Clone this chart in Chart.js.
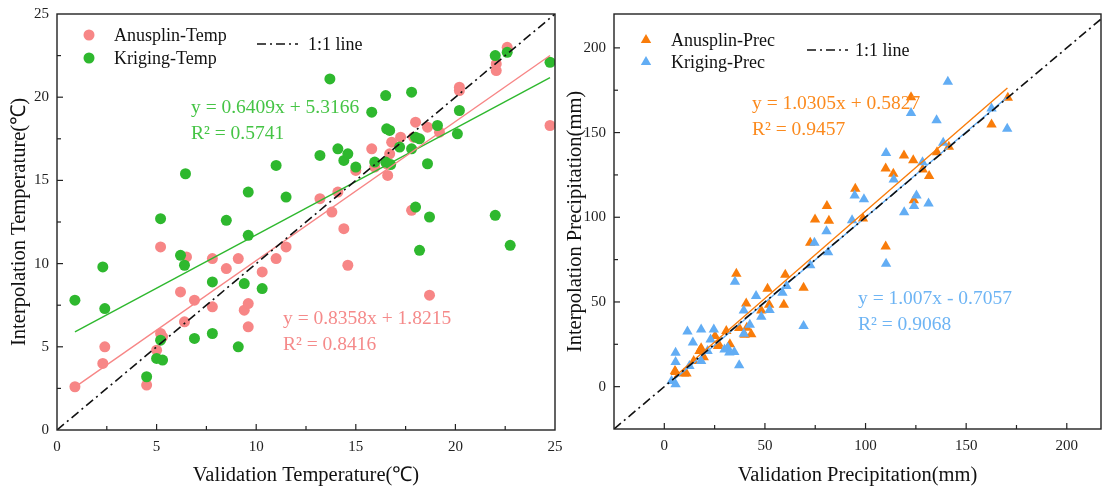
<!DOCTYPE html>
<html lang="en-US">
<head>
  <meta charset="utf-8">
  <title>Validation vs interpolation</title>
  <script src="https://cdn.jsdelivr.net/npm/chart.js@4.4.0/dist/chart.umd.min.js"></script>
  <style>
    html, body { margin: 0; padding: 0; background: #fff; }
    .panel { position: absolute; top: 0; height: 488px; }
  </style>
</head>
<body>
  <div class="panel" style="left:0;width:575px"><canvas id="chart-temp" width="575" height="488"></canvas></div>
  <div class="panel" style="left:560px;width:547px"><canvas id="chart-prec" width="547" height="488"></canvas></div>

  <script>
    // --- temperature panel data (validation x, interpolation y) ---
    let anusplinTempX = [0.9, 2.3, 2.4, 4.5, 5.0, 5.2, 5.3, 5.2, 6.2, 6.4, 6.5, 6.9, 7.8, 7.8, 8.5, 9.1, 9.4, 9.6, 9.6, 10.3,
      11.0, 11.5, 13.2, 13.8, 14.1, 14.4, 14.6, 15.0, 15.8, 15.95, 16.55, 16.6, 16.7, 16.8, 17.25, 17.8, 17.9, 18.0, 18.6, 18.7,
      19.2, 20.2, 20.2, 22.05, 22.05, 22.6, 24.75];
    let anusplinTempY = [2.6, 4.0, 5.0, 2.7, 4.8, 5.8, 5.6, 11.0, 8.3, 6.5, 10.4, 7.8, 10.3, 7.4, 9.7, 10.3, 7.2, 7.6, 6.2, 9.5,
      10.3, 11.0, 13.9, 13.1, 14.3, 12.1, 9.9, 15.6, 16.9, 15.8, 16.0, 15.3, 16.6, 17.3, 17.6, 13.2, 17.6, 18.5, 18.2, 8.1,
      17.9, 20.6, 20.4, 22.0, 21.6, 23.0, 18.3];
    let krigingTempX = [0.9, 2.3, 2.4, 4.5, 5.0, 5.3, 5.2, 5.2, 6.2, 6.4, 6.45, 6.9, 7.8, 7.8, 8.5, 9.1, 9.4, 9.6, 9.6, 10.3,
      11.0, 11.5, 13.2, 13.7, 14.1, 14.4, 14.6, 15.0, 15.8, 15.95, 16.5, 16.55, 16.7, 16.5, 16.75, 17.2, 17.8, 17.8, 18.0, 18.2,
      18.0, 18.2, 18.6, 18.7, 19.1, 20.1, 20.2, 22.0, 22.0, 22.6, 22.75, 24.75];
    let krigingTempY = [7.8, 9.8, 7.3, 3.2, 4.3, 4.2, 5.4, 12.7, 10.5, 9.9, 15.4, 5.5, 8.9, 5.8, 12.6, 5.0, 8.8, 11.7, 14.3, 8.5,
      15.9, 14.0, 16.5, 21.1, 16.9, 16.2, 16.6, 15.8, 19.1, 16.1, 20.1, 18.1, 18.0, 16.1, 15.95, 17.0, 20.3, 16.9, 17.6, 17.5,
      13.4, 10.8, 16.0, 12.8, 18.3, 17.8, 19.2, 22.5, 12.9, 22.7, 11.1, 22.1];

    // --- precipitation panel data ---
    let anusplinPrecX = [5.3, 5.6, 9.8, 11, 14.6, 17.5, 18.3, 19.6, 25.2, 26.7, 26.9, 30.8, 32.6, 35.8, 37.2, 39.9, 40.7, 41,
      43.2, 48.2, 51.3, 52.1, 59.4, 60.1, 69.2, 72.5, 74.9, 80.8, 81.8, 94.9, 98.7, 110, 110, 113.8, 119.1, 122.6, 123.7, 124,
      128.4, 131.6, 135.5, 141.4, 162.6, 170.7];
    let anusplinPrecY = [9.2, 8.6, 7.8, 7.7, 15.1, 21, 22.6, 17.3, 29.9, 24, 25.4, 32.8, 25.1, 66.7, 34.6, 30.7, 49.1, 34.8,
      31, 45, 57.8, 48.4, 48.4, 66.1, 58.4, 85, 98.7, 106.6, 97.9, 116.8, 99.3, 82.8, 128.8, 125.7, 136.5, 170.9, 133.7, 110.1,
      128.2, 124.3, 138.4, 141.6, 154.8, 170.5];
    let krigingPrecX = [3.6, 5.6, 5.6, 5.6, 11.5, 12.5, 14.2, 18.3, 18.3, 21.5, 23, 24.6, 29.9, 31.5, 32.3, 34.8, 35.1, 37.2,
      39.5, 39.5, 42.5, 45.6, 48.2, 52.3, 58.7, 60.7, 69.2, 72.5, 74.6, 80.6, 81.4, 93.3, 94.6, 99.2, 110.2, 110.2, 114, 119.2,
      122.6, 124.1, 125.3, 128.3, 131.3, 135.3, 138.6, 140.9, 162.6, 170.4];
    let krigingPrecY = [3.3, 1.4, 14.5, 20, 32.6, 12.2, 26, 33.8, 15.1, 21, 27.9, 33.8, 22, 23, 20.1, 20.4, 61.9, 12.6,
      45, 31.3, 36.6, 53.5, 41.3, 45.2, 55.5, 59.4, 35.8, 71.6, 85, 91.8, 79.4, 98.3, 112.9, 110.7, 72.6, 138, 122.3, 103,
      161.6, 106.6, 112.9, 132.5, 108.1, 157.3, 144, 180, 164.2, 152.2];

    // fitted lines as printed on the figure: [slope, intercept], and x extent of each fit
    let tempFits = { anusplin: [0.8358, 1.8215], kriging: [0.6409, 5.3166] };
    let tempFitRange = [0.9, 24.75];
    let precFits = { anusplin: [1.0305, 0.5827], kriging: [1.007, -0.7057] };
    let precFitRange = [5, 170.5];

    let tempTicks = [0, 5, 10, 15, 20, 25];
    let precTicks = [0, 50, 100, 150, 200];

    let tempEq = {
      kriging: ['y = 0.6409x + 5.3166', 'R\u00b2 = 0.5741'],
      anusplin: ['y = 0.8358x + 1.8215', 'R\u00b2 = 0.8416']
    };
    let precEq = {
      anusplin: ['y = 1.0305x + 0.5827', 'R\u00b2 = 0.9457'],
      kriging: ['y = 1.007x - 0.7057', 'R\u00b2 = 0.9068']
    };

    const SERIF = "'Liberation Serif', 'Times New Roman', serif";
    const colors = {
      tempA: '#f78686', tempK: '#2eb82e',
      precA: '#f97c0a', precK: '#62adf4',
      tempAText: '#f58a8a', tempKText: '#45c445',
      precAText: '#fb8a1e', precKText: '#6db4f4'
    };

    function pts(xs, ys) {
      return xs.map((x, i) => ({x: x, y: ys[i]}));
    }
    function fitLine(fit, range) {
      return range.map(x => ({x: x, y: fit[0] * x + fit[1]}));
    }

    // box, inward ticks (major + minor), legend and equation text
    function framePlugin(opts) {
      return {
        id: 'frame',
        afterDraw(chart) {
          const ctx = chart.ctx;
          const a = chart.chartArea;
          const xs = chart.scales.x, ys = chart.scales.y;
          ctx.save();
          ctx.strokeStyle = '#222';
          ctx.lineWidth = 1.4;
          ctx.strokeRect(a.left, a.top, a.right - a.left, a.bottom - a.top);

          ctx.lineWidth = 1.2;
          opts.ticks.forEach((v, i) => {
            let mids = [v];
            if (i < opts.ticks.length - 1) mids.push((v + opts.ticks[i + 1]) / 2);
            if (i === 0) mids.push(v - opts.step / 2);
            mids.forEach((t, j) => {
              const len = j === 0 ? 6 : 4;
              const px = xs.getPixelForValue(t);
              if (px > a.left + 1 && px < a.right - 1) {
                ctx.beginPath(); ctx.moveTo(px, a.bottom); ctx.lineTo(px, a.bottom - len); ctx.stroke();
              }
              const py = ys.getPixelForValue(t);
              if (py > a.top + 1 && py < a.bottom - 1) {
                ctx.beginPath(); ctx.moveTo(a.left, py); ctx.lineTo(a.left + len, py); ctx.stroke();
              }
            });
          });

          // legend
          ctx.font = '18px ' + SERIF;
          ctx.textBaseline = 'middle';
          ctx.textAlign = 'left';
          opts.legend.forEach(item => {
            ctx.fillStyle = item.color;
            ctx.beginPath();
            if (item.shape === 'triangle') {
              const r = 6;
              ctx.moveTo(item.mx, item.my - r);
              ctx.lineTo(item.mx + r * 0.866, item.my + r * 0.5);
              ctx.lineTo(item.mx - r * 0.866, item.my + r * 0.5);
              ctx.closePath();
            } else {
              ctx.arc(item.mx, item.my, 5.5, 0, Math.PI * 2);
            }
            ctx.fill();
            ctx.fillStyle = '#111';
            ctx.fillText(item.text, item.tx, item.my + 1);
          });
          const ol = opts.oneToOne;
          ctx.strokeStyle = '#111';
          ctx.lineWidth = 1.6;
          ctx.setLineDash([9, 4, 2, 4]);
          ctx.beginPath(); ctx.moveTo(ol.x0, ol.y); ctx.lineTo(ol.x1, ol.y); ctx.stroke();
          ctx.setLineDash([]);
          ctx.fillStyle = '#111';
          ctx.fillText('1:1 line', ol.tx, ol.y + 1);

          // equations
          ctx.font = '19.5px ' + SERIF;
          opts.equations.forEach(eq => {
            ctx.fillStyle = eq.color;
            ctx.fillText(eq.lines[0], eq.x, eq.y);
            ctx.fillText(eq.lines[1], eq.x, eq.y + 26);
          });
          ctx.restore();
        }
      };
    }

    function axis(min, max, ticks, title, titlePad, size, isX) {
      return {
        type: 'linear',
        min: min,
        max: max,
        grid: { display: false, drawTicks: false },
        border: { display: false },
        ticks: {
          color: '#222',
          padding: 8,
          font: { family: SERIF, size: 15 }
        },
        afterBuildTicks(scale) {
          scale.ticks = ticks.map(v => ({value: v}));
        },
        afterFit(scale) {
          if (isX) {
            scale.height = size;
          } else {
            scale.width = size;
          }
          scale.paddingLeft = 0; scale.paddingRight = 0;
          scale.paddingTop = 0; scale.paddingBottom = 0;
        },
        title: {
          display: true,
          text: title,
          color: '#111',
          padding: titlePad,
          font: { family: SERIF, size: 20.5 }
        }
      };
    }

    function scatterSet(label, data, color, style, order) {
      return {
        type: 'scatter', label: label, data: data,
        backgroundColor: color, borderColor: color, borderWidth: 0,
        pointStyle: style, pointRadius: style === 'triangle' ? 6 : 5.5,
        order: order
      };
    }
    function lineSet(label, data, color, dash, order) {
      return {
        type: 'line', label: label, data: data,
        borderColor: color, borderWidth: dash ? 1.6 : 1.4, borderDash: dash || [],
        pointRadius: 0, fill: false, tension: 0,
        order: order
      };
    }

    let commonOptions = {
      responsive: false,
      animation: false,
      plugins: { legend: { display: false }, tooltip: { enabled: false } }
    };

    new Chart('chart-temp', {
      data: {
        datasets: [
          lineSet('1:1 line', [{x: 0, y: 0}, {x: 25, y: 25}], '#111', [9, 4, 2, 4], 1),
          lineSet('Anusplin fit', fitLine(tempFits.anusplin, tempFitRange), colors.tempA, null, 2),
          lineSet('Kriging fit', fitLine(tempFits.kriging, tempFitRange), colors.tempK, null, 3),
          scatterSet('Kriging-Temp', pts(krigingTempX, krigingTempY), colors.tempK, 'circle', 4),
          scatterSet('Anusplin-Temp', pts(anusplinTempX, anusplinTempY), colors.tempA, 'circle', 5)
        ]
      },
      options: Object.assign({}, commonOptions, {
        layout: { padding: { top: 14, right: 20, left: 0, bottom: 0 } },
        scales: {
          x: axis(0, 25, tempTicks, 'Validation Temperature(\u2103)', { top: 0, bottom: 0 }, 58, true),
          y: axis(0, 25, tempTicks, 'Interpolation Temperature(\u2103)', { top: 7, bottom: 0 }, 57, false)
        }
      }),
      plugins: [framePlugin({
        ticks: tempTicks, step: 5,
        legend: [
          { shape: 'circle', color: colors.tempA, mx: 89, my: 35, tx: 114, text: 'Anusplin-Temp' },
          { shape: 'circle', color: colors.tempK, mx: 89, my: 58, tx: 114, text: 'Kriging-Temp' }
        ],
        oneToOne: { x0: 257, x1: 298, y: 44, tx: 308 },
        equations: [
          { color: colors.tempKText, x: 191, y: 108, lines: tempEq.kriging },
          { color: colors.tempAText, x: 283, y: 319, lines: tempEq.anusplin }
        ]
      })]
    });

    new Chart('chart-prec', {
      data: {
        datasets: [
          lineSet('1:1 line', [{x: -25, y: -25}, {x: 225, y: 225}], '#111', [9, 4, 2, 4], 1),
          lineSet('Anusplin fit', fitLine(precFits.anusplin, precFitRange), colors.precA, null, 3),
          lineSet('Kriging fit', fitLine(precFits.kriging, precFitRange), colors.precK, null, 2),
          scatterSet('Kriging-Prec', pts(krigingPrecX, krigingPrecY), colors.precK, 'triangle', 4),
          scatterSet('Anusplin-Prec', pts(anusplinPrecX, anusplinPrecY), colors.precA, 'triangle', 5)
        ]
      },
      options: Object.assign({}, commonOptions, {
        layout: { padding: { top: 14, right: 0, left: 0, bottom: 0 } },
        scales: {
          x: axis(-25, 217, precTicks, 'Validation Precipitation(mm)', { top: 0, bottom: 0 }, 59, true),
          y: axis(-25, 220, precTicks, 'Interpolation Precipitation(mm)', { top: 3, bottom: 0 }, 54, false)
        }
      }),
      plugins: [framePlugin({
        ticks: precTicks, step: 50,
        legend: [
          { shape: 'triangle', color: colors.precA, mx: 86, my: 40, tx: 111, text: 'Anusplin-Prec' },
          { shape: 'triangle', color: colors.precK, mx: 86, my: 62, tx: 111, text: 'Kriging-Prec' }
        ],
        oneToOne: { x0: 247, x1: 288, y: 50, tx: 295 },
        equations: [
          { color: colors.precAText, x: 192, y: 104, lines: precEq.anusplin },
          { color: colors.precKText, x: 298, y: 299, lines: precEq.kriging }
        ]
      })]
    });
  </script>
</body>
</html>
